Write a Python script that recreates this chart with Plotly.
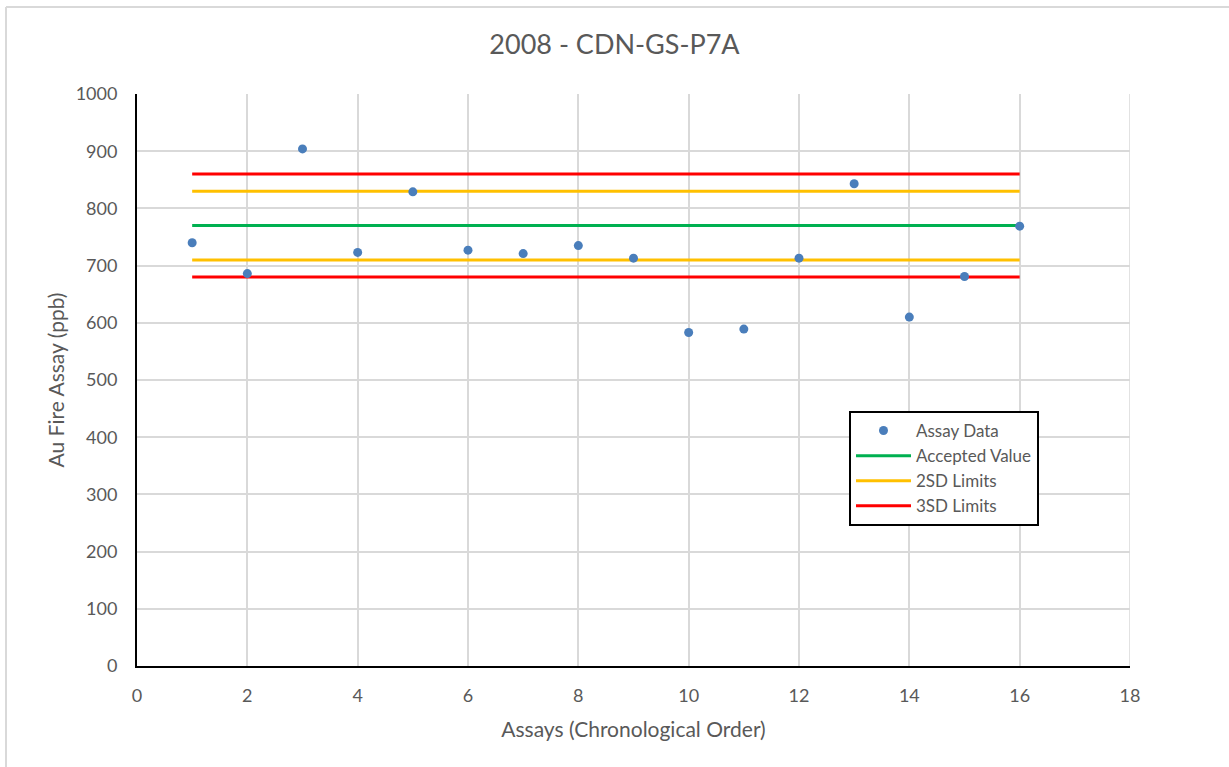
import plotly.graph_objects as go

assay_no = list(range(1, 17))
assay_ppb = [740, 686, 904, 723, 829, 727, 721, 735, 713, 583, 589, 713, 843, 610, 681, 769]
accepted_value = 770
sd2_limits = [710, 830]
sd3_limits = [680, 860]
line_x = [1, 16]

W, H = 1229, 767
L, R, T, B = 137, 1130, 94, 666

fig = go.Figure()
fig.add_trace(go.Scatter(x=line_x, y=[accepted_value] * 2, mode="lines", name="Accepted Value",
                         legendrank=2, line=dict(color="#00B050", width=3)))
for i, v in enumerate(sd2_limits):
    fig.add_trace(go.Scatter(x=line_x, y=[v] * 2, mode="lines", name="2SD Limits",
                             legendgroup="2sd", showlegend=(i == 0), legendrank=3,
                             line=dict(color="#FFC000", width=3)))
for i, v in enumerate(sd3_limits):
    fig.add_trace(go.Scatter(x=line_x, y=[v] * 2, mode="lines", name="3SD Limits",
                             legendgroup="3sd", showlegend=(i == 0), legendrank=4,
                             line=dict(color="#FF0000", width=3)))
fig.add_trace(go.Scatter(x=assay_no, y=assay_ppb, mode="markers", name="Assay Data",
                         legendrank=1, marker=dict(color="#4A7EBB", size=9)))

pw, ph = R - L, B - T
def px(xp): return (xp - L) / pw
def py(yp): return (B - yp) / ph

GRAY = "#595959"
fig.update_layout(
    width=W, height=H,
    margin=dict(l=L, r=W - R, t=T, b=H - B),
    paper_bgcolor="white", plot_bgcolor="white",
    font=dict(family="Lato, 'Open Sans', sans-serif", color=GRAY, size=18),
    title=dict(text="2008 - CDN-GS-P7A", x=0.5, xanchor="center", y=1 - 45 / H, yanchor="middle",
               font=dict(size=27, color=GRAY)),
    xaxis=dict(range=[0, 18], dtick=2, tick0=0, showgrid=True, gridcolor="#D9D9D9", gridwidth=1.5,
               showline=True, linecolor="black", linewidth=2, zeroline=False, ticks="",
               ticklabelstandoff=12,
               title=dict(text="Assays (Chronological Order)", font=dict(size=21, color=GRAY), standoff=18),
               tickfont=dict(size=18, color=GRAY)),
    yaxis=dict(range=[0, 1000], dtick=100, showgrid=True, gridcolor="#D9D9D9", gridwidth=1.5,
               showline=True, linecolor="black", linewidth=2, zeroline=False, ticks="",
               ticklabelstandoff=14,
               title=dict(text="Au Fire Assay (ppb)", font=dict(size=21, color=GRAY), standoff=5),
               tickfont=dict(size=18, color=GRAY)),
    legend=dict(x=px(849), y=py(411), xanchor="left", yanchor="top",
                bordercolor="black", borderwidth=2, bgcolor="white",
                font=dict(size=17, color=GRAY), tracegroupgap=0, itemwidth=55,
                traceorder="normal"),
    showlegend=True,
)
# right plot edge gridline
fig.add_shape(type="line", xref="x", yref="paper", x0=18, x1=18, y0=0, y1=1,
              line=dict(color="#D9D9D9", width=1.5), layer="below")
# outer chart border (top and left visible)
fig.add_shape(type="line", xref="paper", yref="paper", x0=px(6), x1=px(1240), y0=py(7), y1=py(7),
              line=dict(color="#D9D9D9", width=2))
fig.add_shape(type="line", xref="paper", yref="paper", x0=px(6), x1=px(6), y0=py(7), y1=py(780),
              line=dict(color="#D9D9D9", width=2))

fig.write_html("out.html")
